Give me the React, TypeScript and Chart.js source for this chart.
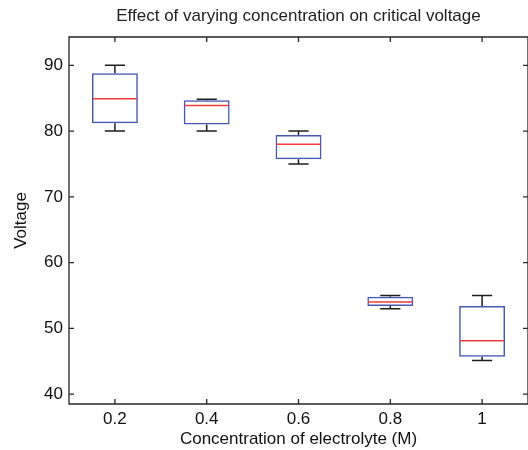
import React, { useEffect, useRef } from 'react';
import { Chart, registerables } from 'chart.js';

Chart.register(...registerables);

const categories = ['0.2', '0.4', '0.6', '0.8', '1'];
const whiskerLow = [80, 80, 75, 53, 45.1];
const q1 = [81.2, 81.0, 75.7, 53.4, 45.7];
const medians = [84.9, 83.9, 78.0, 54.0, 48.1];
const q3 = [88.8, 84.7, 79.4, 54.8, 53.4];
const whiskerHigh = [90, 84.85, 80, 55, 55];
const yTicks = [40, 50, 60, 70, 80, 90];
const yMin = 38.5;
const yMax = 94.3;

const FONT = "'Liberation Sans', Arial, Helvetica, sans-serif";
const BOX_COLOR = '#4558b4';
const MEDIAN_COLOR = '#f03c3c';
const WHISKER_COLOR = '#1e1e1e';
const AXIS_COLOR = '#262626';

const boxExtras = {
  id: 'boxExtras',
  afterDatasetsDraw(chart: any) {
    const meta = chart.getDatasetMeta(0);
    const ys = chart.scales.y;
    const ctx = chart.ctx;
    ctx.save();
    meta.data.forEach((el: any, i: number) => {
      const { x, width } = el.getProps(['x', 'width'], true);
      const half = width / 2;
      const capHalf = width * 0.22;
      const pHi = ys.getPixelForValue(whiskerHigh[i]);
      const pQ3 = ys.getPixelForValue(q3[i]);
      const pQ1 = ys.getPixelForValue(q1[i]);
      const pLo = ys.getPixelForValue(whiskerLow[i]);
      const pMed = ys.getPixelForValue(medians[i]);
      ctx.strokeStyle = WHISKER_COLOR;
      ctx.lineWidth = 1.5;
      ctx.beginPath();
      ctx.moveTo(x, pQ3);
      ctx.lineTo(x, pHi);
      ctx.moveTo(x - capHalf, pHi);
      ctx.lineTo(x + capHalf, pHi);
      ctx.moveTo(x, pQ1);
      ctx.lineTo(x, pLo);
      ctx.moveTo(x - capHalf, pLo);
      ctx.lineTo(x + capHalf, pLo);
      ctx.stroke();
      ctx.strokeStyle = MEDIAN_COLOR;
      ctx.lineWidth = 1.5;
      ctx.beginPath();
      ctx.moveTo(x - half + 1, pMed);
      ctx.lineTo(x + half - 1, pMed);
      ctx.stroke();
    });
    ctx.restore();
  },
};

const axesFrame = {
  id: 'axesFrame',
  afterDraw(chart: any) {
    const { ctx, chartArea } = chart;
    const { left, right, top, bottom } = chartArea;
    const xs = chart.scales.x;
    const ys = chart.scales.y;
    const tl = 5;
    ctx.save();
    ctx.strokeStyle = AXIS_COLOR;
    ctx.lineWidth = 1.3;
    ctx.beginPath();
    ctx.rect(left, top, right - left, bottom - top);
    categories.forEach((_, i) => {
      const px = xs.getPixelForValue(i);
      ctx.moveTo(px, bottom);
      ctx.lineTo(px, bottom - tl);
      ctx.moveTo(px, top);
      ctx.lineTo(px, top + tl);
    });
    yTicks.forEach((v) => {
      const py = ys.getPixelForValue(v);
      ctx.moveTo(left, py);
      ctx.lineTo(left + tl, py);
      ctx.moveTo(right, py);
      ctx.lineTo(right - tl, py);
    });
    ctx.stroke();
    ctx.restore();
  },
};

export default function App() {
  const ref = useRef<HTMLCanvasElement | null>(null);

  useEffect(() => {
    if (!ref.current) return;
    const boxData = q1.map((lo, i) => [lo, q3[i]]);
    const chart = new Chart(ref.current, {
      type: 'bar',
      data: {
        labels: categories,
        datasets: [
          {
            label: 'Voltage',
            data: boxData as any,
            backgroundColor: 'rgba(255,255,255,0)',
            borderColor: BOX_COLOR,
            borderWidth: 1.5,
            borderSkipped: false,
            barPercentage: 0.5,
            categoryPercentage: 1,
          },
        ],
      },
      options: {
        responsive: false,
        animation: false,
        layout: { padding: 0 },
        plugins: {
          legend: { display: false },
          tooltip: { enabled: false },
          title: {
            display: true,
            text: 'Effect of varying concentration on critical voltage',
            fullSize: false,
            color: '#222',
            font: { family: FONT, size: 17, weight: 'normal' },
            padding: { top: 6, bottom: 10.6 },
          },
        },
        scales: {
          x: {
            type: 'category',
            offset: true,
            grid: { display: false, drawTicks: false },
            border: { display: false },
            ticks: {
              color: '#111',
              padding: 5,
              font: { family: FONT, size: 17 },
              maxRotation: 0,
            },
            title: {
              display: true,
              text: 'Concentration of electrolyte (M)',
              color: '#111',
              font: { family: FONT, size: 17 },
              padding: { top: 0, bottom: 0 },
            },
            afterFit(scale: any) {
              scale.height = 46;
            },
          },
          y: {
            type: 'linear',
            min: yMin,
            max: yMax,
            grid: { display: false, drawTicks: false },
            border: { display: false },
            ticks: {
              color: '#111',
              padding: 6,
              font: { family: FONT, size: 17 },
            },
            afterBuildTicks(scale: any) {
              scale.ticks = yTicks.map((v) => ({ value: v }));
            },
            title: {
              display: true,
              text: 'Voltage',
              color: '#111',
              font: { family: FONT, size: 17 },
              padding: { top: 11, bottom: 0 },
            },
            afterFit(scale: any) {
              scale.width = 69;
            },
          },
        },
      },
      plugins: [boxExtras, axesFrame],
    });
    return () => chart.destroy();
  }, []);

  return (
    <div style={{ position: 'absolute', left: 0, top: 0, width: 528, height: 450, background: '#fff' }}>
      <canvas ref={ref} width={528} height={450} style={{ display: 'block' }} />
    </div>
  );
}
